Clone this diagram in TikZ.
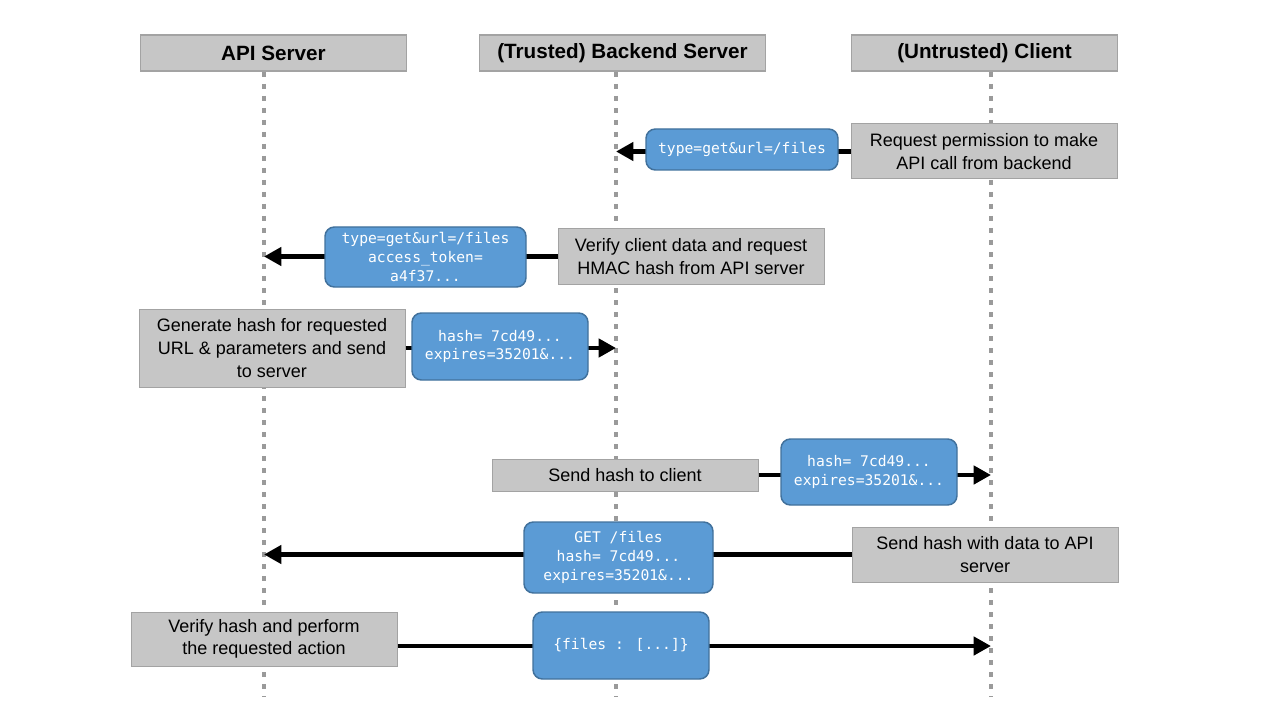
\documentclass[tikz,border=0pt]{standalone}
\usepackage{fontspec}
\setmainfont{Liberation Sans}
\newfontfamily\codefont{DejaVu Sans Mono}
\usepackage{tikz}
\usetikzlibrary{arrows.meta}

\definecolor{boxgray}{HTML}{C6C6C6}
\definecolor{edgegray}{HTML}{A3A3A3}
\definecolor{lifegray}{HTML}{9A9A9A}
\definecolor{msgblue}{HTML}{5B9BD5}
\definecolor{msgedge}{HTML}{41719C}

\begin{document}
\begin{tikzpicture}[x=0.75pt,y=-0.75pt,
    actor/.style={draw=edgegray, fill=boxgray, line width=0.9pt, inner sep=0pt,
        minimum height=27pt, font=\fontsize{15.5}{18}\selectfont\bfseries},
    note/.style={draw=edgegray, fill=boxgray, line width=0.75pt, inner sep=0pt,
        minimum width=199.5pt, align=center, font=\fontsize{13.5}{17}\selectfont},
    msg/.style={draw=msgedge, fill=msgblue, line width=1.1pt, rounded corners=7pt,
        inner sep=0pt, align=center, text=white, font=\codefont\fontsize{11}{14}\selectfont},
    life/.style={draw=lifegray, line width=3pt, dash pattern=on 3.5pt off 5.5pt},
    call/.style={draw=black, line width=3.6pt, -{Triangle[length=13pt,width=13.5pt]}}]
    %%Background
    \useasboundingbox (0,0) rectangle (1280,720);

    %%Actors
    \node[actor, minimum width=200pt] (api) at (273.5,53) {API Server};
    \node[actor, minimum width=214pt] (back) at (622.5,53) {(Trusted) Backend Server};
    \node[actor, minimum width=200pt] (cli) at (984.5,53) {(Untrusted) Client};

    %%Lifelines
    \coordinate (apiTop) at (264,72);
    \coordinate (apiBot) at (264,697);
    \coordinate (backTop) at (616,72);
    \coordinate (backBot) at (616,697);
    \coordinate (cliTop) at (991,72);
    \coordinate (cliBot) at (991,697);
    \draw[life] (apiTop) -- (apiBot);
    \draw[life] (backTop) -- (backBot);
    \draw[life] (cliTop) -- (cliBot);

    %%Notes
    \node[note, minimum height=41.25pt] (n1) at (984,151.5) {Request permission to make\\API call from backend};
    \node[note, minimum height=41.25pt] (n2) at (691,256.5) {Verify client data and request\\HMAC hash from API server};
    \node[note, minimum height=58.5pt] (n3) at (272,348) {Generate hash for requested\\URL \& parameters and send\\to server};
    \node[note, minimum height=24pt] (n4) at (625,475) {Send hash to client};
    \node[note, minimum height=41.25pt] (n5) at (985,554.5) {Send hash with data to API\\server};
    \node[note, minimum height=40.5pt] (n6) at (264,639) {Verify hash and perform\\the requested action};

    %%Calls
    \draw[call] (n1.west) -- (n1.west -| backTop);
    \draw[call] (n2.west) -- (n2.west -| apiTop);
    \draw[call] (n3.east) -- (n3.east -| backTop);
    \draw[call] (n4.east) -- (n4.east -| cliTop);
    \draw[call] (n5.west) -- (n5.west -| apiTop);
    \coordinate (r6) at (264,646);
    \draw[call] (r6 -| n6.east) -- (r6 -| cliTop);

    %%Messages
    \node[msg, minimum width=144pt, minimum height=30.75pt] (m1) at (742,149.5) {type=get\&url=/files};
    \node[msg, minimum width=150.75pt, minimum height=45pt] (m2) at (425.5,257) {type=get\&url=/files\\access\_token=\\a4f37...};
    \node[msg, minimum width=132pt, minimum height=50.25pt] (m3) at (500,346.5) {hash= 7cd49...\\expires=35201\&...};
    \node[msg, minimum width=132pt, minimum height=49.5pt] (m4) at (869,472) {hash= 7cd49...\\expires=35201\&...};
    \node[msg, minimum width=141.75pt, minimum height=53.25pt] (m5) at (618.5,557.5) {GET /files\\hash= 7cd49...\\expires=35201\&...};
    \node[msg, minimum width=132pt, minimum height=50.25pt] (m6) at (621,645.5) {\{files : [...]\}};

\end{tikzpicture}
\end{document}
